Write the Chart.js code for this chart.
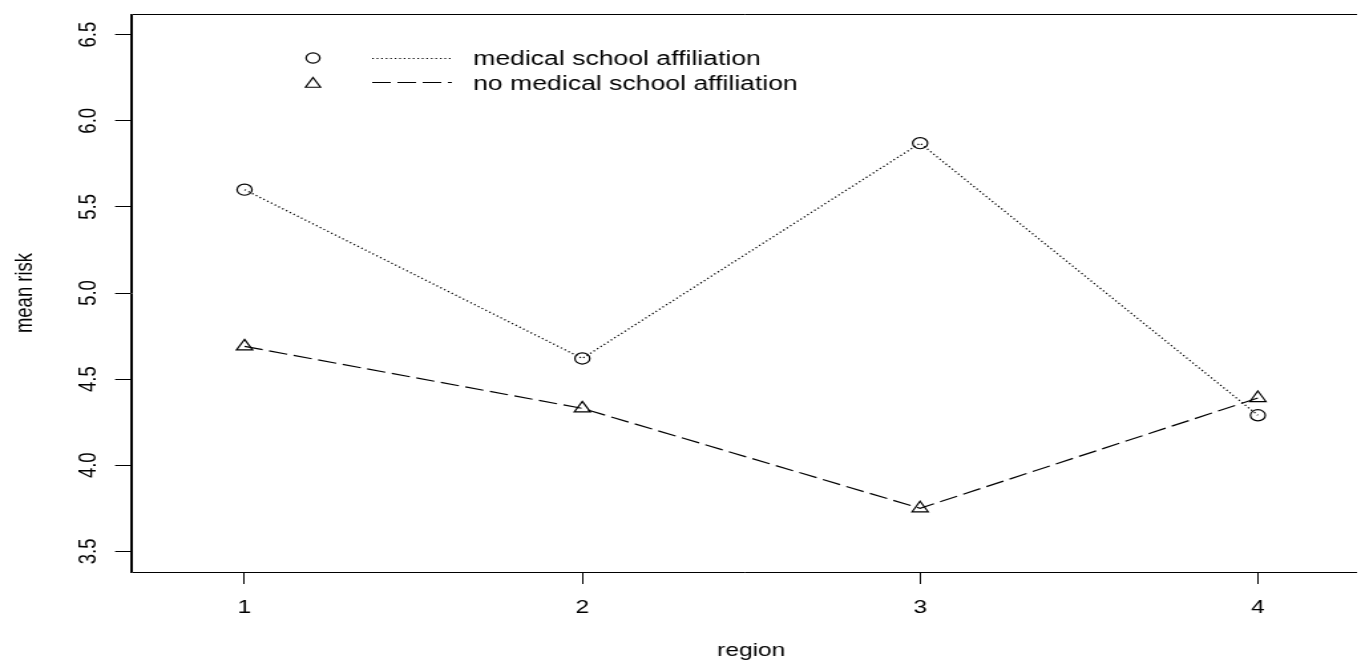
<!DOCTYPE html>
<html>
<head>
<meta charset="utf-8">
<script src="https://cdn.jsdelivr.net/npm/chart.js@4/dist/chart.umd.min.js"></script>
<style>
  html, body { margin: 0; padding: 0; background: #fff; overflow: hidden; width: 1361px; height: 662px; }
  #wrap { position: absolute; left: 0; top: 0; width: 1040px; height: 662px;
          transform-origin: 0 0; transform: scaleX(1.3291); }
  canvas { display: block; }
</style>
</head>
<body>
<div id="wrap"><canvas id="c" width="1040" height="662"></canvas></div>
<script>
// Mean risk by region, split by medical school affiliation
const regions = [1, 2, 3, 4];
const regionLabels = ['1', '2', '3', '4'];
const medSchool = [5.60, 4.62, 5.87, 4.29];
const noMedSchool = [4.69, 4.33, 3.75, 4.39];
const yTicks = [3.5, 4.0, 4.5, 5.0, 5.5, 6.0, 6.5];
const seriesNames = ['medical school affiliation', 'no medical school affiliation'];

const FAMILY = "'Liberation Sans', Arial, Helvetica, sans-serif";
const SIZE = 18.5;
const KEY_SIZE = 20;
const font = { family: FAMILY, size: SIZE };
const INK = '#000';

const dotted = [1.2, 2.2];
const longDash = [14, 5];

function drawCircle(ctx, x, y, r) {
  ctx.beginPath();
  ctx.arc(x, y, r, 0, Math.PI * 2);
  ctx.stroke();
}
function drawTriangle(ctx, x, y, r) {
  ctx.beginPath();
  ctx.moveTo(x, y - r);
  ctx.lineTo(x + r * Math.sin(2 * Math.PI / 3), y - r * Math.cos(2 * Math.PI / 3));
  ctx.lineTo(x + r * Math.sin(4 * Math.PI / 3), y - r * Math.cos(4 * Math.PI / 3));
  ctx.closePath();
  ctx.stroke();
}

// Open frame (top, left, bottom), rotated y tick labels and the key
const framePlugin = {
  id: 'frame',
  afterDraw(chart) {
    const { ctx, chartArea: a, scales } = chart;
    ctx.save();
    ctx.strokeStyle = INK;
    ctx.lineWidth = 1;
    ctx.setLineDash([]);
    const L = Math.round(a.left) + 0.5, T = Math.round(a.top) + 0.5, B = Math.round(a.bottom) + 0.5;
    const R = 1021;
    ctx.beginPath();
    ctx.moveTo(R, T);
    ctx.lineTo(L, T);
    ctx.lineTo(L, B);
    ctx.lineTo(R, B);
    ctx.stroke();

    ctx.fillStyle = INK;
    ctx.font = SIZE + 'px ' + FAMILY;
    ctx.textAlign = 'center';
    ctx.textBaseline = 'alphabetic';
    yTicks.forEach(v => {
      const py = scales.y.getPixelForValue(v);
      ctx.save();
      ctx.translate(71.5, py);
      ctx.rotate(-Math.PI / 2);
      ctx.fillText(v.toFixed(1), 0, 0);
      ctx.restore();
    });

    // key: symbol, line sample, text
    const symX = 235.5, lineX0 = 280, lineX1 = 340, textX = 356;
    const rows = [
      { sym: 'circle', symY: 58, lineY: 58, textY: 65, dash: dotted, text: seriesNames[0] },
      { sym: 'triangle', symY: 84, lineY: 82, textY: 89.5, dash: longDash, text: seriesNames[1] }
    ];
    ctx.font = KEY_SIZE + 'px ' + FAMILY;
    ctx.textAlign = 'left';
    ctx.lineWidth = 1.2;
    rows.forEach(r => {
      ctx.setLineDash([]);
      if (r.sym === 'circle') drawCircle(ctx, symX, r.symY, 5.2);
      else drawTriangle(ctx, symX, r.symY, 6.5);
      ctx.setLineDash(r.dash);
      ctx.beginPath();
      ctx.moveTo(lineX0, r.lineY + 0.5);
      ctx.lineTo(lineX1, r.lineY + 0.5);
      ctx.stroke();
      ctx.setLineDash([]);
      ctx.fillText(r.text, textX, r.textY);
    });
    ctx.restore();
  }
};

new Chart(document.getElementById('c'), {
  type: 'line',
  data: {
    datasets: [
      {
        label: seriesNames[0],
        data: regions.map((r, i) => ({ x: r, y: medSchool[i] })),
        borderColor: INK,
        borderWidth: 1.3,
        borderDash: dotted,
        tension: 0,
        fill: false,
        pointStyle: 'circle',
        pointRadius: 5.6,
        pointBorderWidth: 1.2,
        pointBorderColor: INK,
        pointBackgroundColor: 'rgba(0,0,0,0)'
      },
      {
        label: seriesNames[1],
        data: regions.map((r, i) => ({ x: r, y: noMedSchool[i] })),
        borderColor: INK,
        borderWidth: 1.2,
        borderDash: longDash,
        tension: 0,
        fill: false,
        pointStyle: 'triangle',
        pointRadius: 7,
        pointBorderWidth: 1.2,
        pointBorderColor: INK,
        pointBackgroundColor: 'rgba(0,0,0,0)'
      }
    ]
  },
  options: {
    responsive: false,
    animation: false,
    devicePixelRatio: 1,
    layout: { padding: { top: 14, right: 6.6, left: 0, bottom: 0 } },
    plugins: { legend: { display: false }, tooltip: { enabled: false } },
    scales: {
      x: {
        type: 'linear',
        min: 0.664,
        max: 4.336,
        afterBuildTicks: s => { s.ticks = regions.map(v => ({ value: v })); },
        afterFit: s => { s.height = 90; },
        ticks: {
          callback: v => regionLabels[regions.indexOf(v)],
          font, color: INK, padding: 13, maxRotation: 0, autoSkip: false
        },
        grid: { drawOnChartArea: false, drawTicks: true, tickLength: 12, color: INK, lineWidth: 1 },
        border: { display: false },
        title: { display: true, text: 'region', font, color: INK, padding: { top: 0, bottom: 0 } }
      },
      y: {
        type: 'linear',
        min: 3.38,
        max: 6.62,
        afterBuildTicks: s => { s.ticks = yTicks.map(v => ({ value: v })); },
        afterFit: s => { s.width = 98.6; },
        ticks: { display: false },
        grid: { drawOnChartArea: false, drawTicks: true, tickLength: 12, color: INK, lineWidth: 1 },
        border: { display: true, color: INK, width: 1 },
        title: { display: true, text: 'mean risk', font, color: INK, padding: { top: 8, bottom: 0 } }
      }
    }
  },
  plugins: [framePlugin]
});
</script>
</body>
</html>
